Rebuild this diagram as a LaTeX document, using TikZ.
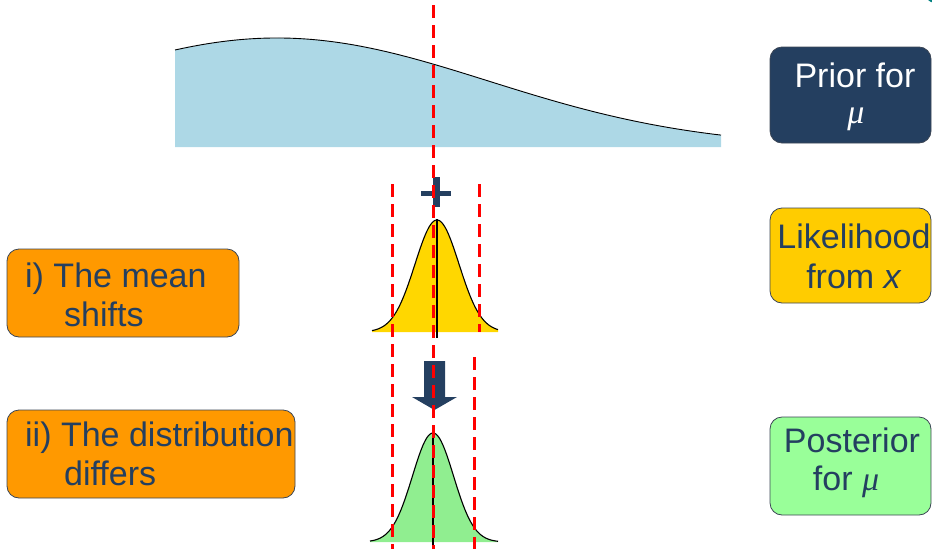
\documentclass[tikz,border=0pt]{standalone}
\usepackage{fontspec}
\setmainfont{Liberation Sans}
\newfontfamily\muserif{Liberation Serif}
\newcommand{\mymu}{{\muserif\itshape μ}}
\definecolor{navy}{RGB}{36,63,96}
\definecolor{priorblue}{RGB}{173,216,230}
\definecolor{likegold}{RGB}{255,215,0}
\definecolor{likebox}{RGB}{255,204,0}
\definecolor{postgreen}{RGB}{144,238,144}
\definecolor{postbox}{RGB}{153,255,153}
\definecolor{boxorange}{RGB}{255,153,0}
\definecolor{edgegray}{RGB}{60,70,85}
\definecolor{tealart}{RGB}{0,128,128}
\begin{document}
\begin{tikzpicture}[x=1pt,y=-1pt,
  lbl/.style={font=\fontsize{34}{40}\selectfont, text=navy, inner sep=0pt},
  wlbl/.style={lbl, text=white},
  infobox/.style={draw=edgegray, line width=0.8pt, rounded corners=12pt, inner sep=0pt},
  reddash/.style={draw=red, line width=3pt, dash pattern=on 13pt off 7pt},
  curveline/.style={draw=black, line width=1.1pt},
  meanline/.style={draw=black, line width=2.2pt}]
\useasboundingbox (0,0) rectangle (932,549);
% small teal artifact at the top right corner
\fill[tealart] (936,-10) circle (13pt);
% prior
\fill[priorblue] (175,147) -- plot[domain=175:721, samples=120] (\x,{147-109*exp(-((\x-277)/211)*((\x-277)/211)/2)}) -- (721,147) -- cycle;
\draw[draw=black, line width=0.9pt] plot[domain=175:721, samples=120] (\x,{147-109*exp(-((\x-277)/211)*((\x-277)/211)/2)});
% likelihood
\fill[likegold] (372,332) -- plot[domain=372:498, samples=100] (\x,{332-112*exp(-((\x-437)/22)*((\x-437)/22)/2)}) -- (498,332) -- cycle;
\draw[curveline] plot[domain=372:498, samples=100] (\x,{332-112*exp(-((\x-437)/22)*((\x-437)/22)/2)});
\coordinate (l1) at (437,219);
\coordinate (l2) at (437,338);
\draw[meanline] (l1) -- (l2);
% posterior
\fill[postgreen] (370,542) -- plot[domain=370:498, samples=100] (\x,{542-109*exp(-((\x-433)/20.5)*((\x-433)/20.5)/2)}) -- (498,542) -- cycle;
\draw[curveline] plot[domain=370:498, samples=100] (\x,{542-109*exp(-((\x-433)/20.5)*((\x-433)/20.5)/2)});
\coordinate (p1) at (433,433);
\coordinate (p2) at (433,549);
\draw[meanline] (p1) -- (p2);
% plus sign
\fill[navy] (421,190.5) rectangle (451,195.5);
\fill[navy] (432.5,177) rectangle (439.5,207);
% down arrow
\fill[navy] (424,361) -- (445,361) -- (445,397) -- (457,397) -- (434.5,410) -- (412,397) -- (424,397) -- cycle;
% red dashed guide lines
\coordinate (c1) at (433,5);
\coordinate (c2) at (433,549);
\draw[reddash] (c1) -- (c2);
\coordinate (a1) at (392.5,184);
\coordinate (a2) at (392.5,549);
\draw[reddash] (a1) -- (a2);
\coordinate (b1t) at (479.5,184);
\coordinate (b1b) at (479.5,332);
\draw[reddash] (b1t) -- (b1b);
\coordinate (b2t) at (474.5,357);
\coordinate (b2b) at (474.5,549);
\draw[reddash] (b2t) -- (b2b);
% left boxes
\node[infobox, fill=boxorange, minimum width=232pt, minimum height=88pt] (mbox) at (123,293) {};
\node[lbl, anchor=base west] (mt1) at (25,287) {i) The mean};
\node[lbl, anchor=base west] (mt2) at (64,326) {shifts};
\node[infobox, fill=boxorange, minimum width=288pt, minimum height=88pt] (dbox) at (151,454) {};
\node[lbl, anchor=base west] (dt1) at (25,446) {ii) The distribution};
\node[lbl, anchor=base west] (dt2) at (64,485) {differs};
% right boxes
\node[infobox, fill=navy, minimum width=161pt, minimum height=96pt] (prbox) at (850.5,95) {};
\node[wlbl, anchor=base] (prt1) at (855,87) {Prior for};
\node[wlbl, anchor=base] (prt2) at (856,123) {\mymu};
\node[infobox, fill=likebox, minimum width=161pt, minimum height=95pt] (lkbox) at (850.5,255.5) {};
\node[lbl, anchor=base] (lkt1) at (854,248) {Likelihood};
\node[lbl, anchor=base] (lkt2) at (854,288) {from \textit{x}};
\node[infobox, fill=postbox, minimum width=161pt, minimum height=98pt] (psbox) at (850.5,466) {};
\node[lbl, anchor=base] (pst1) at (852,452) {Posterior};
\node[lbl, anchor=base] (pst2) at (846,490) {for \mymu};
\end{tikzpicture}
\end{document}
